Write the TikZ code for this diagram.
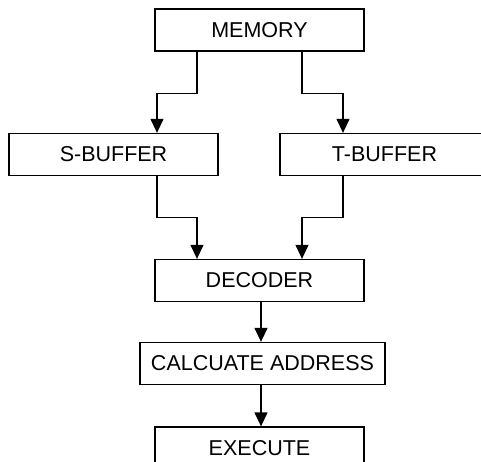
\documentclass[tikz,border=0pt]{standalone}
\usepackage{fontspec}
\setmainfont{Liberation Sans}
\usetikzlibrary{arrows.meta,positioning}

\begin{document}
\begin{tikzpicture}[
  x=1pt, y=-1pt,
  unit/.style={draw=black, fill=white, minimum width=209pt,
    minimum height=42pt, inner sep=0pt, align=center,
    font=\fontsize{21.5}{25}\selectfont, line width=1.3pt},
  edge/.style={-{Triangle[length=14pt,width=13pt]}, draw=black,
    line width=1.3pt}
]
\useasboundingbox (0,0) rectangle (481,462);
\clip (0,0) rectangle (481,462);

\node[unit] (mem) at (259.5,30) {MEMORY};
\node[unit] (sbuf) at (113.5,154.5) {S-BUFFER};
\node[unit] (tbuf) at (384.5,154.5) {T-BUFFER};
\node[unit] (dec) at (259.5,280.5) {DECODER};
\node[unit, minimum width=245pt] (addr) at (262.5,363.5) {CALCUATE ADDRESS};
\node[unit] (exec) at (259.5,448) {EXECUTE};

\draw[edge] ([xshift=-62.5pt]mem.south) -- ++(0,42) -| ([xshift=43.5pt]sbuf.north);
\draw[edge] ([xshift=42.5pt]mem.south) -- ++(0,42) -| ([xshift=-41.5pt]tbuf.north);
\draw[edge] ([xshift=43.5pt]sbuf.south) -- ++(0,41.5) -| ([xshift=-62.5pt]dec.north);
\draw[edge] ([xshift=-41.5pt]tbuf.south) -- ++(0,41.5) -| ([xshift=42.5pt]dec.north);
\draw[edge] ([xshift=1.5pt]dec.south) -- ([xshift=-1.5pt]addr.north);
\draw[edge] ([xshift=-1.5pt]addr.south) -- ([xshift=1.5pt]exec.north);
\end{tikzpicture}
\end{document}
